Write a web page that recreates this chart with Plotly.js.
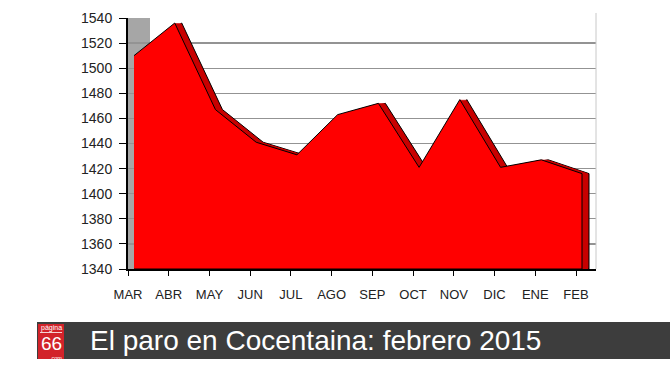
<!DOCTYPE html>
<html>
<head>
<meta charset="utf-8">
<script src="https://cdn.plot.ly/plotly-3.0.1.min.js"></script>
<style>html,body{margin:0;padding:0;background:#fff;}#chart{width:670px;height:377px;}</style>
</head>
<body>
<div id="chart"></div>
<script>
// Data
const months = ["MAR","ABR","MAY","JUN","JUL","AGO","SEP","OCT","NOV","DIC","ENE","FEB"];
const parados = [1510, 1536, 1467, 1441, 1431, 1463, 1472, 1421, 1475, 1421, 1427, 1416];
const yTicks = [1340,1360,1380,1400,1420,1440,1460,1480,1500,1520,1540];
const YMIN = 1340, YMAX = 1540;
const titleText = "El paro en Cocentaina: febrero 2015";

const idx = months.map((m, i) => i);
const last = idx.length - 1;
const polyX = idx.concat([last, 0]);
const polyY = parados.concat([YMIN, YMIN]);

const font = '"Liberation Sans", Arial, sans-serif';

const pxPerUnit = 448 / 11;
const span = 468 / pxPerUnit;
const frontShift = 6;   // px offset of front face from axis ticks
const depth = 7;        // px depth of the 3D band

const traces = [{x: [], y: [], xaxis: 'x', yaxis: 'y', type: 'scatter', mode: 'lines', hoverinfo: 'skip'}];
const layout = {
  width: 670, height: 377,
  margin: {l: 128, r: 74, t: 18, b: 108},
  paper_bgcolor: '#fff', plot_bgcolor: '#fff',
  showlegend: false,
  font: {family: font, color: '#222'},
  title: {
    text: titleText,
    font: {family: font, size: 28, color: '#fff'},
    x: 90/670, xref: 'container', xanchor: 'left',
    y: 1 - 340/377, yref: 'container', yanchor: 'middle'
  },
  xaxis: {
    range: [0, span], tickmode: 'array', tickvals: idx, ticktext: months,
    ticks: 'outside', ticklen: 5, tickcolor: '#000', tickwidth: 1,
    showline: true, linecolor: '#000', linewidth: 1.5,
    showgrid: false, zeroline: false,
    tickfont: {family: font, size: 13, color: '#222'},
    ticklabelstandoff: 8
  },
  yaxis: {
    range: [YMIN, YMAX], tickmode: 'array', tickvals: yTicks,
    ticks: 'outside', ticklen: 7, tickcolor: '#000',
    showline: true, linecolor: '#000', linewidth: 2,
    gridcolor: '#939393', gridwidth: 1.3, zeroline: false,
    tickfont: {family: font, size: 14, color: '#222'},
    ticklabelstandoff: 4
  }
};

// depth band: copies of the area swept from back to front
let axn = 2;
for (let s = depth; s >= 1; s--) {
  const r0 = -(frontShift + s) / pxPerUnit;
  layout['xaxis' + axn] = {overlaying: 'x', range: [r0, r0 + span], visible: false};
  traces.push({
    x: polyX, y: polyY, xaxis: 'x' + axn, yaxis: 'y',
    type: 'scatter', mode: 'lines', fill: 'toself',
    fillcolor: s === depth ? '#b80000' : '#c80000',
    line: {color: s === depth ? '#000' : 'rgba(0,0,0,0)', width: s === depth ? 1 : 0},
    hoverinfo: 'skip'
  });
  axn++;
}
// front face
{
  const r0 = -frontShift / pxPerUnit;
  layout['xaxis' + axn] = {overlaying: 'x', range: [r0, r0 + span], visible: false};
  traces.push({
    x: polyX, y: polyY, xaxis: 'x' + axn, yaxis: 'y',
    type: 'scatter', mode: 'lines', fill: 'toself',
    fillcolor: '#ff0000', line: {color: '#000', width: 1},
    hoverinfo: 'skip'
  });
}

layout.shapes = [
  {type: 'rect', xref: 'paper', yref: 'paper', x0: 0, x1: 22/468, y0: 0, y1: 1,
   fillcolor: '#a6a6a6', line: {width: 0}, layer: 'between'},
  {type: 'line', xref: 'paper', yref: 'paper', x0: 1, x1: 1, y0: 0, y1: 1.02,
   line: {color: '#c8c8c8', width: 1}},
  {type: 'rect', xref: 'paper', yref: 'paper',
   x0: (37-128)/468, x1: (670-128)/468 + 0.01, y0: (269-359)/251, y1: (269-322)/251,
   fillcolor: '#3d3d3d', line: {width: 0}},
  {type: 'rect', xref: 'paper', yref: 'paper',
   x0: (38-128)/468, x1: (64-128)/468, y0: (269-359)/251, y1: (269-324)/251,
   fillcolor: '#d2232a', line: {width: 0}},
  {type: 'line', xref: 'paper', yref: 'paper',
   x0: (40-128)/468, x1: (62-128)/468, y0: (269-332.5)/251, y1: (269-332.5)/251,
   line: {color: '#fff', width: 0.8}}
];
layout.annotations = [
  {text: 'página', xref: 'paper', yref: 'paper', x: (51-128)/468, y: (269-327.5)/251,
   showarrow: false, font: {family: font, size: 7, color: '#fff'}, xanchor: 'center', yanchor: 'middle'},
  {text: '66', xref: 'paper', yref: 'paper', x: (51-128)/468, y: (269-343.5)/251,
   showarrow: false, font: {family: font, size: 19, color: '#fff'}, xanchor: 'center', yanchor: 'middle'},
  {text: '.com', xref: 'paper', yref: 'paper', x: (56-128)/468, y: (269-358)/251,
   showarrow: false, font: {family: font, size: 5.5, color: '#fff'}, xanchor: 'center', yanchor: 'middle'}
];

Plotly.newPlot('chart', traces, layout, {staticPlot: true, displayModeBar: false});
</script>
</body>
</html>
